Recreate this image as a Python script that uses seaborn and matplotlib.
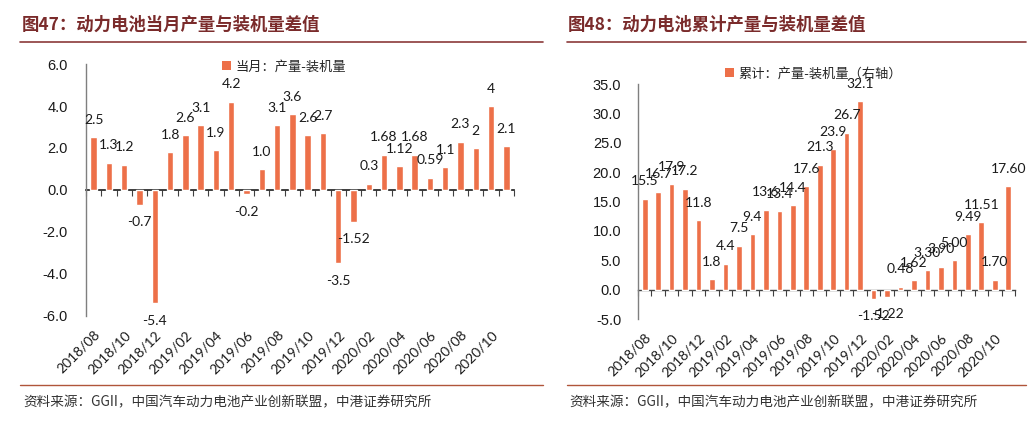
import numpy as np
import matplotlib
matplotlib.use("Agg")
import matplotlib.pyplot as plt
from matplotlib.lines import Line2D
from matplotlib.patches import Patch
from matplotlib.ticker import StrMethodFormatter, NullFormatter
import seaborn as sns

# ---------------- data ----------------
months = ["2018/08", "2018/09", "2018/10", "2018/11", "2018/12",
          "2019/01", "2019/02", "2019/03", "2019/04", "2019/05", "2019/06",
          "2019/07", "2019/08", "2019/09", "2019/10", "2019/11", "2019/12",
          "2020/01", "2020/02", "2020/03", "2020/04", "2020/05", "2020/06",
          "2020/07", "2020/08", "2020/09", "2020/10", "2020/11"]
tick_labels = ["2018/08", "2018/10", "2018/12", "2019/02", "2019/04", "2019/06",
               "2019/08", "2019/10", "2019/12", "2020/02", "2020/04", "2020/06",
               "2020/08", "2020/10"]

monthly_diff = [2.5, 1.3, 1.2, -0.7, -5.4, 1.8, 2.6, 3.1, 1.9, 4.2, -0.2, 1.0,
                3.1, 3.6, 2.6, 2.7, -3.5, -1.52, 0.3, 1.68, 1.12, 1.68, 0.59,
                1.1, 2.3, 2.0, 4.0, 2.1]
monthly_labels = ["2.5", "1.3", "1.2", "-0.7", "-5.4", "1.8", "2.6", "3.1", "1.9",
                  "4.2", "-0.2", "1.0", "3.1", "3.6", "2.6", "2.7", "-3.5", "-1.52",
                  "0.3", "1.68", "1.12", "1.68", "0.59", "1.1", "2.3", "2", "4", "2.1"]

cum_diff = [15.5, 16.7, 17.9, 17.2, 11.8, 1.8, 4.4, 7.5, 9.4, 13.6, 13.4, 14.4,
            17.6, 21.3, 23.9, 26.7, 32.1, -1.52, -1.22, 0.48, 1.62, 3.30, 3.90,
            5.00, 9.49, 11.51, 1.70, 17.60]
cum_labels = ["15.5", "16.7", "17.9", "17.2", "11.8", "1.8", "4.4", "7.5", "9.4",
              "13.6", "13.4", "14.4", "17.6", "21.3", "23.9", "26.7", "32.1",
              "-1.52", "-1.22", "0.48", "1.62", "3.30", "3.90", "5.00", "9.49",
              "11.51", "1.70", "17.60"]

left_yticks = [-6.0, -4.0, -2.0, 0.0, 2.0, 4.0, 6.0]
right_yticks = [-5.0, 0.0, 5.0, 10.0, 15.0, 20.0, 25.0, 30.0, 35.0]

title_left = "图47：动力电池当月产量与装机量差值"
title_right = "图48：动力电池累计产量与装机量差值"
legend_left = "当月：产量-装机量"
legend_right = "累计：产量-装机量（右轴）"
source_text = "资料来源：GGII，中国汽车动力电池产业创新联盟，中港证券研究所"

# ---------------- style ----------------
sns.set_theme(style="white")
CJK = ["Noto Sans CJK SC", "DejaVu Sans"]
plt.rcParams["font.family"] = CJK
plt.rcParams["axes.unicode_minus"] = False

BAR = "#ED7049"
TITLE_C = "#7A2B2B"
AXIS_C = "#7F7F7F"
ZERO_C = "#404040"

fig = plt.figure(figsize=(10.36, 4.25), dpi=100)
axL = fig.add_axes([0.0830, 0.2565, 0.4131, 0.5929])
axR = fig.add_axes([0.6158, 0.2494, 0.3639, 0.5529])


def draw_panel(ax, values, labels, yticks, ylim, tick_dir, ytick_pad, legend_text, legend_xy):
    sns.barplot(x=months, y=values, ax=ax, color=BAR, width=0.42,
                saturation=1, label=legend_text)
    ax.set_xlim(-0.5, len(months) - 0.5)
    ax.set_ylim(*ylim)
    ax.set_yticks(yticks)
    ax.yaxis.set_major_formatter(StrMethodFormatter("{x:.1f}"))
    ax.set_xlabel("")
    ax.set_ylabel("")
    for s in ["top", "right", "bottom"]:
        ax.spines[s].set_visible(False)
    ax.spines["left"].set_color(AXIS_C)
    ax.spines["left"].set_linewidth(1.0)
    ax.tick_params(axis="y", direction="out", length=3, width=0.8,
                   color=AXIS_C, pad=ytick_pad, labelsize=10.5, labelcolor="#1a1a1a")
    for t in ax.get_yticklabels():
        t.set_fontfamily(["Liberation Sans", "DejaVu Sans"])
    # category labels every two months
    pos = [months.index(m) for m in tick_labels]
    ax.set_xticks(pos)
    ax.set_xticklabels(tick_labels, rotation=45, ha="right",
                       rotation_mode="anchor", fontsize=10,
                       family=["Lato", "DejaVu Sans"], color="#1a1a1a")
    ax.tick_params(axis="x", length=0, pad=9)
    ax.grid(False)

    # zero line with category boundary ticks
    frac = (0 - ylim[0]) / (ylim[1] - ylim[0])
    sec = ax.secondary_xaxis(frac)
    bounds = np.arange(-0.5, len(months), 1.0)
    sec.set_xticks(bounds, labels=[""] * len(bounds))
    sec.xaxis.set_major_formatter(NullFormatter())
    sec.tick_params(axis="x", direction=tick_dir, length=4, width=0.8,
                    color=ZERO_C, labelbottom=False, labeltop=False)
    sec.spines["bottom"].set_color(ZERO_C)
    sec.spines["bottom"].set_linewidth(1.0)

    # data labels
    for i, (v, lab) in enumerate(zip(values, labels)):
        off = 12.5 if v >= 0 else -12.5
        ax.annotate(lab, (i, v), xytext=(0, off), textcoords="offset points",
                    ha="center", va="center", fontsize=10,
                    family=["Lato", "DejaVu Sans"], color="#1a1a1a")

    handle = Patch(facecolor=BAR, edgecolor="none")
    fig.legend([handle], [legend_text], loc="center left",
               bbox_to_anchor=legend_xy, bbox_transform=fig.transFigure,
               frameon=False, handlelength=0.65, handleheight=0.65,
               handletextpad=0.35, borderpad=0, borderaxespad=0,
               prop={"family": CJK, "size": 9.5})
    leg = ax.get_legend()
    if leg is not None:
        leg.remove()


draw_panel(axL, monthly_diff, monthly_labels, left_yticks, (-6.0, 6.0),
           "in", 10, legend_left, (222 / 1036, 1 - 67 / 425))
draw_panel(axR, cum_diff, cum_labels, right_yticks, (-5.0, 35.0),
           "out", 9, legend_right, (725 / 1036, 1 - 74 / 425))

# ---------------- titles, rules and sources ----------------
W, H = 1036.0, 425.0
fig.text(22 / W, 1 - 25 / H, title_left, fontsize=12.5, fontweight="bold",
         color=TITLE_C, va="center", ha="left")
fig.text(568 / W, 1 - 25 / H, title_right, fontsize=12.5, fontweight="bold",
         color=TITLE_C, va="center", ha="left")

for x0, x1 in [(20, 543), (567, 1026)]:
    fig.add_artist(Line2D([x0 / W, x1 / W], [1 - 41.5 / H] * 2,
                          transform=fig.transFigure, color="#8B3A3A", lw=1.2))
    fig.add_artist(Line2D([x0 / W, x1 / W], [1 - 385 / H] * 2,
                          transform=fig.transFigure, color="#B0553A", lw=1.0))

fig.text(23 / W, 1 - 402 / H, source_text, fontsize=9.8, style="italic",
         color="#333333", va="center", ha="left")
fig.text(569 / W, 1 - 402 / H, source_text, fontsize=9.8, style="italic",
         color="#333333", va="center", ha="left")

fig.savefig("out.png", dpi=100)
